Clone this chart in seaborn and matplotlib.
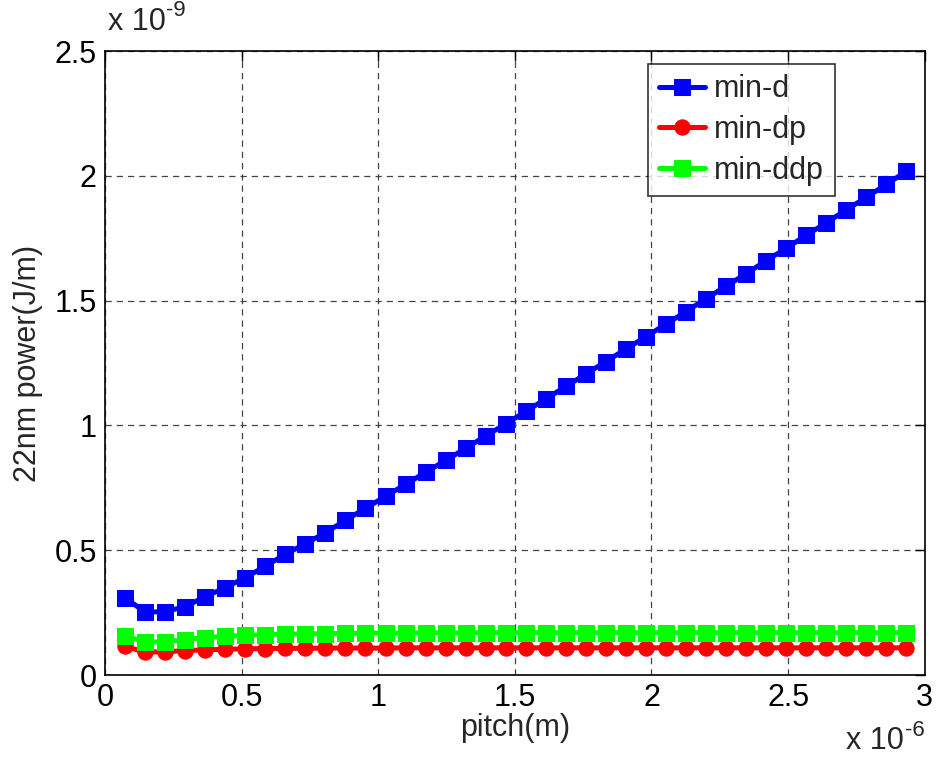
import numpy as np
import pandas as pd
import seaborn as sns
import matplotlib
matplotlib.use("Agg")
import matplotlib.pyplot as plt
from matplotlib.ticker import FuncFormatter

# pitch values, in units of 1e-6 m
pitch = [0.0733, 0.1467, 0.2200, 0.2933, 0.3667, 0.4400, 0.5133, 0.5867, 0.6600, 0.7333,
         0.8067, 0.8800, 0.9533, 1.0267, 1.1000, 1.1733, 1.2467, 1.3200, 1.3933, 1.4667,
         1.5400, 1.6133, 1.6867, 1.7600, 1.8333, 1.9067, 1.9800, 2.0533, 2.1267, 2.2000,
         2.2733, 2.3467, 2.4200, 2.4933, 2.5667, 2.6400, 2.7133, 2.7867, 2.8600, 2.9333]

# power values, in units of 1e-9 J/m
min_d = [0.310, 0.252, 0.254, 0.274, 0.314, 0.350, 0.390, 0.436, 0.484, 0.526,
         0.570, 0.620, 0.668, 0.716, 0.764, 0.812, 0.860, 0.908, 0.958, 1.006,
         1.056, 1.106, 1.156, 1.206, 1.256, 1.306, 1.356, 1.406, 1.456, 1.508,
         1.558, 1.608, 1.660, 1.710, 1.762, 1.812, 1.864, 1.914, 1.966, 2.018]
min_dp = [0.115, 0.092, 0.093, 0.098, 0.101, 0.103, 0.105, 0.106, 0.107, 0.107,
          0.108, 0.108, 0.108, 0.108, 0.109, 0.109, 0.109, 0.109, 0.109, 0.109,
          0.109, 0.109, 0.109, 0.109, 0.109, 0.109, 0.109, 0.109, 0.109, 0.109,
          0.109, 0.109, 0.109, 0.109, 0.109, 0.109, 0.109, 0.109, 0.109, 0.109]
min_ddp = [0.158, 0.132, 0.133, 0.142, 0.150, 0.155, 0.159, 0.162, 0.164, 0.165,
           0.166, 0.167, 0.168, 0.168, 0.169, 0.169, 0.169, 0.169, 0.170, 0.170,
           0.170, 0.170, 0.170, 0.170, 0.170, 0.170, 0.170, 0.170, 0.170, 0.170,
           0.170, 0.170, 0.170, 0.170, 0.170, 0.170, 0.170, 0.170, 0.170, 0.170]

names = ["min-d", "min-dp", "min-ddp"]
colors = ["#0000ff", "#ff0000", "#00ff00"]
markers = ["s", "o", "s"]

sns.set_style("white")
plt.rcParams["font.family"] = ["Liberation Sans", "DejaVu Sans"]

fs = 22

fig = plt.figure(figsize=(9.4, 7.65), dpi=100)
ax = fig.add_axes([0.1117, 0.1176, 0.872, 0.8157])

for name, vals, c, m in zip(names, [min_d, min_dp, min_ddp], colors, markers):
    sns.lineplot(x=pitch, y=vals, ax=ax, color=c, marker=m, markersize=11,
                 markeredgecolor=c, linewidth=3.6, label=name)

ax.set_xlim(0, 3)
ax.set_ylim(0, 2.5)
ax.set_xticks(np.arange(0, 3.01, 0.5))
ax.set_yticks(np.arange(0, 2.51, 0.5))
fmt = FuncFormatter(lambda v, p: "%g" % v)
ax.xaxis.set_major_formatter(fmt)
ax.yaxis.set_major_formatter(fmt)
ax.tick_params(direction="in", length=7, width=1, labelsize=fs, colors="black",
               top=True, right=True, pad=6)
for s in ax.spines.values():
    s.set_color("black")
    s.set_linewidth(1.2)
ax.grid(True, color="#444444", linestyle=(0, (5, 4)), linewidth=0.9)

ax.set_xlabel("pitch(m)", fontsize=fs, labelpad=0)
ax.set_ylabel("22nm power(J/m)", fontsize=fs, labelpad=8)

# multiplier labels, MATLAB style
fig.text(0.115, 0.952, "x 10", fontsize=fs, ha="left", va="bottom")
fig.text(0.177, 0.972, "-9", fontsize=16, ha="left", va="bottom")
fig.text(0.962, 0.012, "x 10", fontsize=fs, ha="right", va="bottom")
fig.text(0.963, 0.032, "-6", fontsize=16, ha="left", va="bottom")

leg = ax.legend(loc="upper right", bbox_to_anchor=(0.89, 0.98), fontsize=fs,
                frameon=True, fancybox=False, handlelength=1.5, borderpad=0.35,
                labelspacing=0.35, handletextpad=0.3, borderaxespad=0)
leg.get_frame().set_edgecolor("black")
leg.get_frame().set_linewidth(1.2)

fig.savefig("out.png", dpi=100, facecolor="white")
